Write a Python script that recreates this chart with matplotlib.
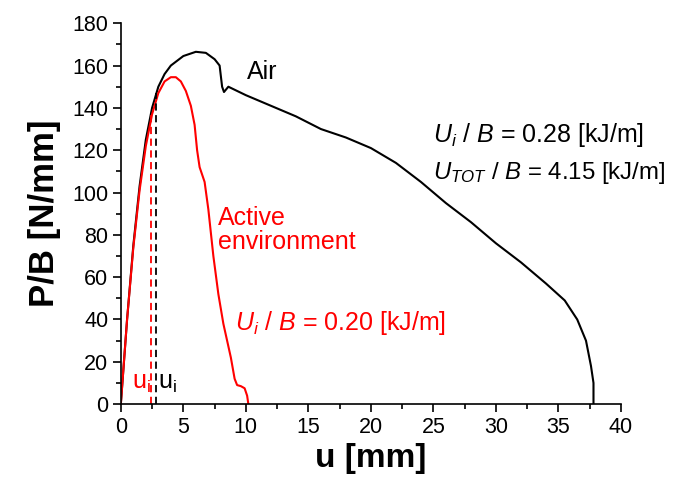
import numpy as np
import matplotlib
matplotlib.use("Agg")
import matplotlib.pyplot as plt
from matplotlib.ticker import MultipleLocator

plt.rcParams['font.family'] = ['Liberation Sans', 'DejaVu Sans']
plt.rcParams['mathtext.fontset'] = 'custom'
plt.rcParams['mathtext.rm'] = 'Liberation Sans'
plt.rcParams['mathtext.it'] = 'Liberation Sans:italic'

# Air curve (black)
air_u = [0, 0.5, 1.0, 1.5, 2.0, 2.5, 3.0, 3.5, 4.0, 5.0, 6.0, 6.8, 7.5, 7.9,
         8.1, 8.25, 8.6, 10, 12, 14, 16, 18, 20, 22, 24, 26, 28, 30, 32, 34,
         35.5, 36.5, 37.2, 37.6, 37.8, 37.8]
air_p = [0, 40, 75, 103, 125, 140, 150, 156, 160, 164.5, 166.5, 166, 163, 160,
         150, 147.5, 150, 146, 141, 136, 130, 126, 121, 114, 105, 95, 86, 76,
         67, 57, 49, 40, 30, 18, 10, 0]

# Active environment curve (red)
act_u = [0, 0.5, 1.0, 1.5, 2.0, 2.5, 3.0, 3.5, 4.0, 4.4, 4.8, 5.2, 5.6, 5.9,
         6.1, 6.3, 6.7, 7.0, 7.4, 7.8, 8.2, 8.5, 8.8, 9.1, 9.3, 9.6, 9.9,
         10.1, 10.2]
act_p = [0, 40, 74, 101, 122, 137, 147, 152.5, 154.5, 154.5, 152.5, 148, 141,
         132, 120, 112, 105, 92, 70, 52, 38, 30, 22, 12, 9, 8.5, 7.5, 4, 0]

# u_i markers
ui_air, pi_air = 2.85, 147
ui_act, pi_act = 2.4, 136.5

fig = plt.figure(figsize=(6.75, 4.84), dpi=100)
ax = fig.add_axes([0.179, 0.165, 0.741, 0.787])

ax.plot(air_u, air_p, color='black', lw=1.5)
ax.plot(act_u, act_p, color='red', lw=1.5)
ax.plot([ui_air, ui_air], [0, pi_air], color='black', lw=1.3, ls=(0, (4, 2.5)))
ax.plot([ui_act, ui_act], [0, pi_act], color='red', lw=1.3, ls=(0, (4, 2.5)))

ax.set_xlim(0, 40)
ax.set_ylim(0, 180)
ax.xaxis.set_major_locator(MultipleLocator(5))
ax.xaxis.set_minor_locator(MultipleLocator(2.5))
ax.yaxis.set_major_locator(MultipleLocator(20))
ax.yaxis.set_minor_locator(MultipleLocator(10))
ax.tick_params(which='major', direction='out', length=6, width=1.2,
               labelsize=15.5, pad=3)
ax.tick_params(which='minor', direction='out', length=3.5, width=1.2)
ax.spines['top'].set_visible(False)
ax.spines['right'].set_visible(False)
for s in ('left', 'bottom'):
    ax.spines[s].set_linewidth(1.2)

ax.set_xlabel('u [mm]', fontsize=24, fontweight='bold', labelpad=4)
ax.set_ylabel('P/B [N/mm]', fontsize=25, fontweight='bold', labelpad=8)

ax.text(10.1, 157, 'Air', fontsize=18, color='black', va='center')
ax.text(25.0, 127, '$U_i$ / $B$ = 0.28 [kJ/m]', fontsize=18, color='black', va='center')
ax.text(25.0, 109, '$U_{TOT}$ / $B$ = 4.15 [kJ/m]', fontsize=17.3, color='black', va='center')
ax.text(7.8, 82.5, 'Active\nenvironment', fontsize=18, color='red', va='center',
        linespacing=1.0)
ax.text(9.1, 38.5, '$U_i$ / $B$ = 0.20 [kJ/m]', fontsize=18, color='red', va='center')
ax.text(0.9, 10, 'u$_\\mathregular{i}$', fontsize=18, color='red', va='center')
ax.text(3.0, 10, 'u$_\\mathregular{i}$', fontsize=18, color='black', va='center')

fig.savefig('out.png', dpi=100)
